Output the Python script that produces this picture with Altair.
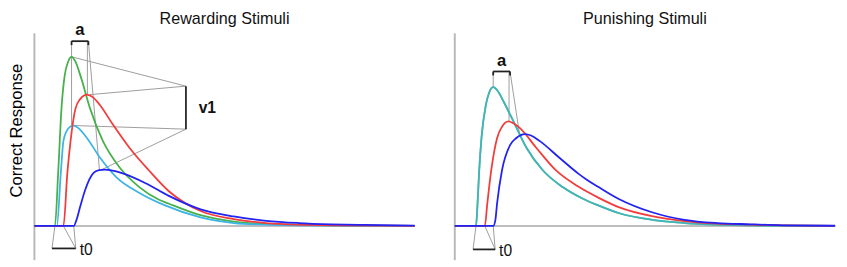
import altair as alt
import pandas as pd

FONT = "Liberation Sans"
X_MAX = 389
Y_MIN, Y_TOP = -35, 219          # plot area range (response units)
AXIS_BOTTOM, AXIS_TOP = -35, 197  # extent of the drawn response axis line

# ---------- Rewarding stimuli (time, response) ----------
REW_GREEN_T = [0, 21, 24.3, 27.7, 31, 34.5, 38, 42, 47, 57, 70, 87, 107, 127, 137, 170, 204, 237, 270, 320, 389]
REW_GREEN_R = [0, 0, 54, 120, 154, 168, 173, 168, 154, 120, 87, 60, 40, 27, 23, 11, 4.5, 2, 1, 0.3, 0]

REW_CYAN_T = [0, 23, 27, 29.7, 33, 36.5, 40.3, 45, 53.7, 67, 83.7, 107, 133.7, 170, 204, 237, 270, 389]
REW_CYAN_R = [0, 0, 54, 87, 97, 101.5, 102.7, 100, 90, 70, 50, 34, 21, 8.7, 3, 1.3, 0.5, 0]

REW_RED_T = [0, 29.7, 33.7, 37, 42, 47, 53.7, 60, 67, 80.3, 97, 117, 137, 170, 204, 237, 270, 304, 389]
REW_RED_R = [0, 0, 54, 87, 120, 130, 134.3, 131.5, 123.7, 103.7, 80.3, 57, 36, 15.3, 7, 3, 1.3, 0.7, 0]

REW_BLUE_T = [0, 40.3, 43, 47, 52, 60.3, 66, 72, 80, 90.3, 113.7, 137, 170, 204, 237, 270, 304, 337, 389]
REW_BLUE_R = [0, 0, 6, 20.3, 37, 54, 57, 57.7, 56.5, 53.7, 43.7, 31, 17, 9.7, 5.3, 3, 1.7, 1, 0.3]

# ---------- Punishing stimuli ----------
PUN_GREEN_T = [0, 21.7, 23.3, 25, 27.3, 31.7, 35, 39.3, 44, 50, 60, 73.3, 90, 110, 130, 146.7, 168.3, 201.7, 235, 268, 301.7, 389]
PUN_GREEN_R = [0, 0, 23.3, 57, 90, 123.3, 136, 142, 138, 127, 107, 80, 57, 40, 28.3, 21, 13, 6.3, 3, 1.3, 0.5, 0]

PUN_CYAN_T = [0, 21.7, 23.3, 25, 27.3, 31.7, 35, 39.3, 44, 50, 60, 73.3, 90, 110, 130, 146.7, 168.3, 201.7, 235, 268, 301.7, 389]
PUN_CYAN_R = [0, 0, 23.3, 57, 90, 123.3, 136, 142, 138, 127, 107, 80, 57, 40, 28.3, 21, 13, 6.3, 3, 1.3, 0.5, 0]

PUN_RED_T = [0, 30.7, 33.3, 37.3, 43.3, 48, 55, 60, 66.7, 83.3, 103.3, 126.7, 146.7, 168.3, 201.7, 235, 268, 301.7, 335, 389]
PUN_RED_R = [0, 0, 23.3, 57, 90, 101, 107, 105, 100, 80, 57, 40, 29, 19, 10, 5, 2.3, 1.3, 0.5, 0]

PUN_BLUE_T = [0, 39.3, 41.5, 43.3, 48.3, 56.7, 63, 71.7, 78, 86.7, 106.7, 126.7, 135, 146.7, 168.3, 201.7, 235, 268, 301.7, 335, 389]
PUN_BLUE_R = [0, 0, 6, 23.3, 57, 83, 90, 94, 92.5, 87, 70, 53.3, 47.3, 40, 27.3, 14, 6.3, 3, 1.7, 0.7, 0.2]

SERIES = ["green", "cyan", "red", "blue"]
COLORS = {"green": "#46b04a", "cyan": "#3db4e6", "red": "#f23c3c", "blue": "#2222f2"}

# annotation anchors (response / time units)
TITLE_Y = 207
REW_A_Y, REW_T0_Y = 189, -23
REW_V1_X, REW_V1_TOP, REW_V1_BOT = 155, 143, 99
PUN_A_Y, PUN_T0_Y = 158, -24


def peak(t, r):
    i = max(range(len(r)), key=lambda k: r[k])
    return t[i], r[i]


def onset(t, r):
    i = next(k for k in range(len(r)) if r[k] > 0)
    return t[i - 1]


def build(curves, title, a_y, t0_y, v1=None):
    gp, cp, rp, bp = (peak(*curves[s]) for s in SERIES)
    go, ro, bo = (onset(*curves[s]) for s in ["green", "red", "blue"])
    a_l = gp[0]
    a_r = rp[0] + 1.5
    low_left = min(gp[1], cp[1])
    gray = [
        (a_l, a_y, a_l, low_left),
        (rp[0] + 0.5, a_y, rp[0] + 0.5, rp[1]),
        (a_r, a_y, bp[0] - 5.5, bp[1]),
    ]
    t0l, t0r = go - 3, bo + 2
    gray += [(t0l, t0_y, go, 0), (t0r, t0_y, ro, 0), (t0r, t0_y, bo, 0)]
    dark = [(a_l, a_y, a_r, a_y), (t0l, t0_y, t0r, t0_y),
            (a_l, a_y, a_l, a_y - 4), (a_r, a_y, a_r, a_y - 4)]
    texts = [("a", (a_l + a_r) / 2, a_y + 11, "center", "bold", "middle", 17),
             ("t0", t0r + 4, t0_y - 2, "left", "normal", "middle", 16),
             (title, X_MAX / 2, TITLE_Y, "center", "normal", "alphabetic", 16.5)]
    if v1:
        vx, vt, vb = v1
        gray += [(vx, vt, gp[0], gp[1]), (vx, vt, rp[0] + 3, rp[1]),
                 (vx, vb, cp[0], cp[1]), (vx, vb, bp[0] - 3, bp[1])]
        dark += [(vx, vt, vx, vb)]
        texts += [("v1", vx + 13, (vt + vb) / 2, "left", "bold", "middle", 16)]
    cols = ["x", "y", "x2", "y2"]
    return (pd.DataFrame(gray, columns=cols), pd.DataFrame(dark, columns=cols),
            pd.DataFrame(texts, columns=["label", "x", "y", "align", "weight", "baseline", "size"]))


def panel(curves, title, y_title, a_y, t0_y, v1=None, cyan_opacity=1.0):
    xs = alt.Scale(domain=[0, X_MAX], nice=False, zero=False)
    ys = alt.Scale(domain=[Y_MIN, Y_TOP], nice=False, zero=False)
    if y_title:
        yaxis = alt.Axis(labels=False, ticks=False, grid=False, domain=False,
                         titleFontSize=17, titleFont=FONT, titleFontWeight="normal",
                         titleColor="#000", titlePadding=9, titleY=121, title=y_title)
    else:
        yaxis = alt.Axis(labels=False, ticks=False, grid=False, domain=False, title=None)
    gray, dark, texts = build(curves, title, a_y, t0_y, v1)

    layers = []
    # time baseline and response axis line
    layers.append(alt.Chart(pd.DataFrame({"y0": [0]})).mark_rule(
        color="#a8a8a8", strokeWidth=1.5).encode(
        y=alt.Y("y0:Q", scale=ys, axis=yaxis)))
    layers.append(alt.Chart(pd.DataFrame({"x0": [0], "lo": [AXIS_BOTTOM], "hi": [AXIS_TOP]})).mark_rule(
        color="#b8b8b8", strokeWidth=2).encode(
        x=alt.X("x0:Q", scale=xs, axis=None),
        y=alt.Y("lo:Q", scale=ys, axis=yaxis), y2="hi:Q"))
    layers.append(alt.Chart(gray).mark_rule(color="#9c9c9c", strokeWidth=1).encode(
        x=alt.X("x:Q", scale=xs, axis=None), y=alt.Y("y:Q", scale=ys, axis=yaxis),
        x2="x2:Q", y2="y2:Q"))
    for s in SERIES:
        t, r = curves[s]
        df = pd.DataFrame({"t": t, "r": r})
        op = cyan_opacity if s == "cyan" else 1.0
        layers.append(alt.Chart(df).mark_line(
            color=COLORS[s], strokeWidth=1.8, opacity=op, interpolate="monotone").encode(
            x=alt.X("t:Q", scale=xs, axis=None), y=alt.Y("r:Q", scale=ys, axis=yaxis)))
    layers.append(alt.Chart(dark).mark_rule(color="#222", strokeWidth=1.8).encode(
        x=alt.X("x:Q", scale=xs, axis=None), y=alt.Y("y:Q", scale=ys, axis=yaxis),
        x2="x2:Q", y2="y2:Q"))
    for _, row in texts.iterrows():
        layers.append(alt.Chart(pd.DataFrame([row])).mark_text(
            font=FONT, fontSize=float(row["size"]), fontWeight=row["weight"], align=row["align"],
            baseline=row["baseline"], color="#111").encode(
            x=alt.X("x:Q", scale=xs, axis=None), y=alt.Y("y:Q", scale=ys, axis=yaxis),
            text="label:N"))
    return alt.layer(*layers).properties(width=X_MAX, height=Y_TOP - Y_MIN)


rew = {"green": (REW_GREEN_T, REW_GREEN_R), "cyan": (REW_CYAN_T, REW_CYAN_R),
       "red": (REW_RED_T, REW_RED_R), "blue": (REW_BLUE_T, REW_BLUE_R)}
pun = {"green": (PUN_GREEN_T, PUN_GREEN_R), "cyan": (PUN_CYAN_T, PUN_CYAN_R),
       "red": (PUN_RED_T, PUN_RED_R), "blue": (PUN_BLUE_T, PUN_BLUE_R)}

left = panel(rew, "Rewarding Stimuli", "Correct Response", REW_A_Y, REW_T0_Y,
             (REW_V1_X, REW_V1_TOP, REW_V1_BOT))
right = panel(pun, "Punishing Stimuli", None, PUN_A_Y, PUN_T0_Y, cyan_opacity=0.75)

chart = alt.hconcat(left, right, spacing=33).properties(
    padding={"left": 0, "top": 0, "right": 0, "bottom": 0},
    background="white").configure_view(stroke=None)

chart.save("out.html", embed_options={"renderer": "svg", "actions": False})
